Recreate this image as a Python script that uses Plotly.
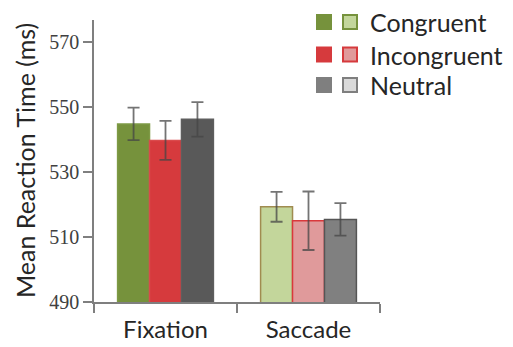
import plotly.graph_objects as go

categories = ["Fixation", "Saccade"]
conditions = ["Congruent", "Incongruent", "Neutral"]
congruent = [544.8, 519.3]
incongruent = [539.7, 515.0]
neutral = [546.2, 515.4]
congruent_err = [5.0, 4.6]
incongruent_err = [6.0, 9.0]
neutral_err = [5.3, 5.0]
y_ticks = [490, 510, 530, 550, 570]

fill_colors = {
    "Congruent": ["#76923C", "#C3D69B"],
    "Incongruent": ["#D63A3D", "#E09A9B"],
    "Neutral": ["#595959", "#808080"],
}
line_colors = {
    "Congruent": ["#7E9A45", "#A08C50"],
    "Incongruent": ["#DA4A4C", "#D9393C"],
    "Neutral": ["#5E5E5E", "#555555"],
}
legend_colors = {
    "Congruent": ("#76923C", "#C3D69B", "#76923C"),
    "Incongruent": ("#D63A3D", "#E09A9B", "#D63A3D"),
    "Neutral": ("#7F7F7F", "#D9D9D9", "#7F7F7F"),
}

# page body has an 8px margin; figure fills the window from that offset
OFF = 8
W, H = 513 - OFF, 347 - OFF
L, R, T, B = 94 - OFF, 380 - OFF, 20 - OFF, 302 - OFF
pw, ph = R - L, B - T


def px(x):
    return (x - OFF - L) / pw


def py(y):
    return (B - (y - OFF)) / ph


values = {"Congruent": congruent, "Incongruent": incongruent, "Neutral": neutral}
errors = {"Congruent": congruent_err, "Incongruent": incongruent_err, "Neutral": neutral_err}

fig = go.Figure()
for c in conditions:
    fig.add_trace(go.Bar(
        x=categories, y=values[c], name=c,
        marker=dict(color=fill_colors[c], line=dict(color=line_colors[c], width=1.5)),
        error_y=dict(type="data", array=errors[c], color="rgba(70,70,70,0.75)",
                     thickness=1.8, width=6),
        showlegend=False,
    ))

y_top = 490 + ph / 65 * 20

fig.update_layout(
    width=W, height=H,
    margin=dict(l=L, r=W - R, t=T, b=H - B, pad=0),
    paper_bgcolor="white", plot_bgcolor="white",
    barmode="group", bargap=0.33, bargroupgap=0,
    font=dict(family="Lato", color="#262626"),
    xaxis=dict(
        type="category", showline=True, linecolor="#7F7F7F", linewidth=1.5,
        ticks="outside", tickson="boundaries", ticklen=9, tickwidth=1.5,
        tickcolor="#7F7F7F", tickfont=dict(family="Lato", size=24, color="#262626"),
        showgrid=False, zeroline=False, ticklabelstandoff=5, automargin=False,
    ),
    yaxis=dict(
        range=[490, y_top], tickvals=y_ticks, showline=True, linecolor="#7F7F7F",
        linewidth=1.5, ticks="outside", ticklen=9, tickwidth=1.5, tickcolor="#7F7F7F",
        tickfont=dict(family="Liberation Serif", size=20, color="#404040"),
        showgrid=False, zeroline=False, automargin=False,
    ),
)

# small axis line extensions past the origin
fig.add_shape(type="line", xref="paper", yref="paper", x0=0, x1=0, y0=py(312), y1=0,
              line=dict(color="#7F7F7F", width=1.5))
fig.add_shape(type="line", xref="paper", yref="paper", x0=px(89), x1=0, y0=0, y1=0,
              line=dict(color="#7F7F7F", width=1.5))

fig.add_annotation(text="Mean Reaction Time (ms)", xref="paper", yref="paper",
                   x=px(25), y=0.5, textangle=-90, showarrow=False,
                   xanchor="center", yanchor="middle",
                   font=dict(family="Lato", size=25, color="#262626"))

rows = [22, 54.5, 85]
for c, yc in zip(conditions, rows):
    dark, light, border = legend_colors[c]
    fig.add_shape(type="rect", xref="paper", yref="paper",
                  x0=px(316), x1=px(332), y0=py(yc + 8), y1=py(yc - 8),
                  fillcolor=dark, line=dict(width=0))
    fig.add_shape(type="rect", xref="paper", yref="paper",
                  x0=px(343), x1=px(357), y0=py(yc + 7), y1=py(yc - 7),
                  fillcolor=light, line=dict(color=border, width=2))
    fig.add_annotation(text=c, xref="paper", yref="paper", x=px(368), y=py(yc),
                       xanchor="left", yanchor="middle", showarrow=False,
                       font=dict(family="Lato", size=25, color="#262626"))

fig.write_html("out.html")
